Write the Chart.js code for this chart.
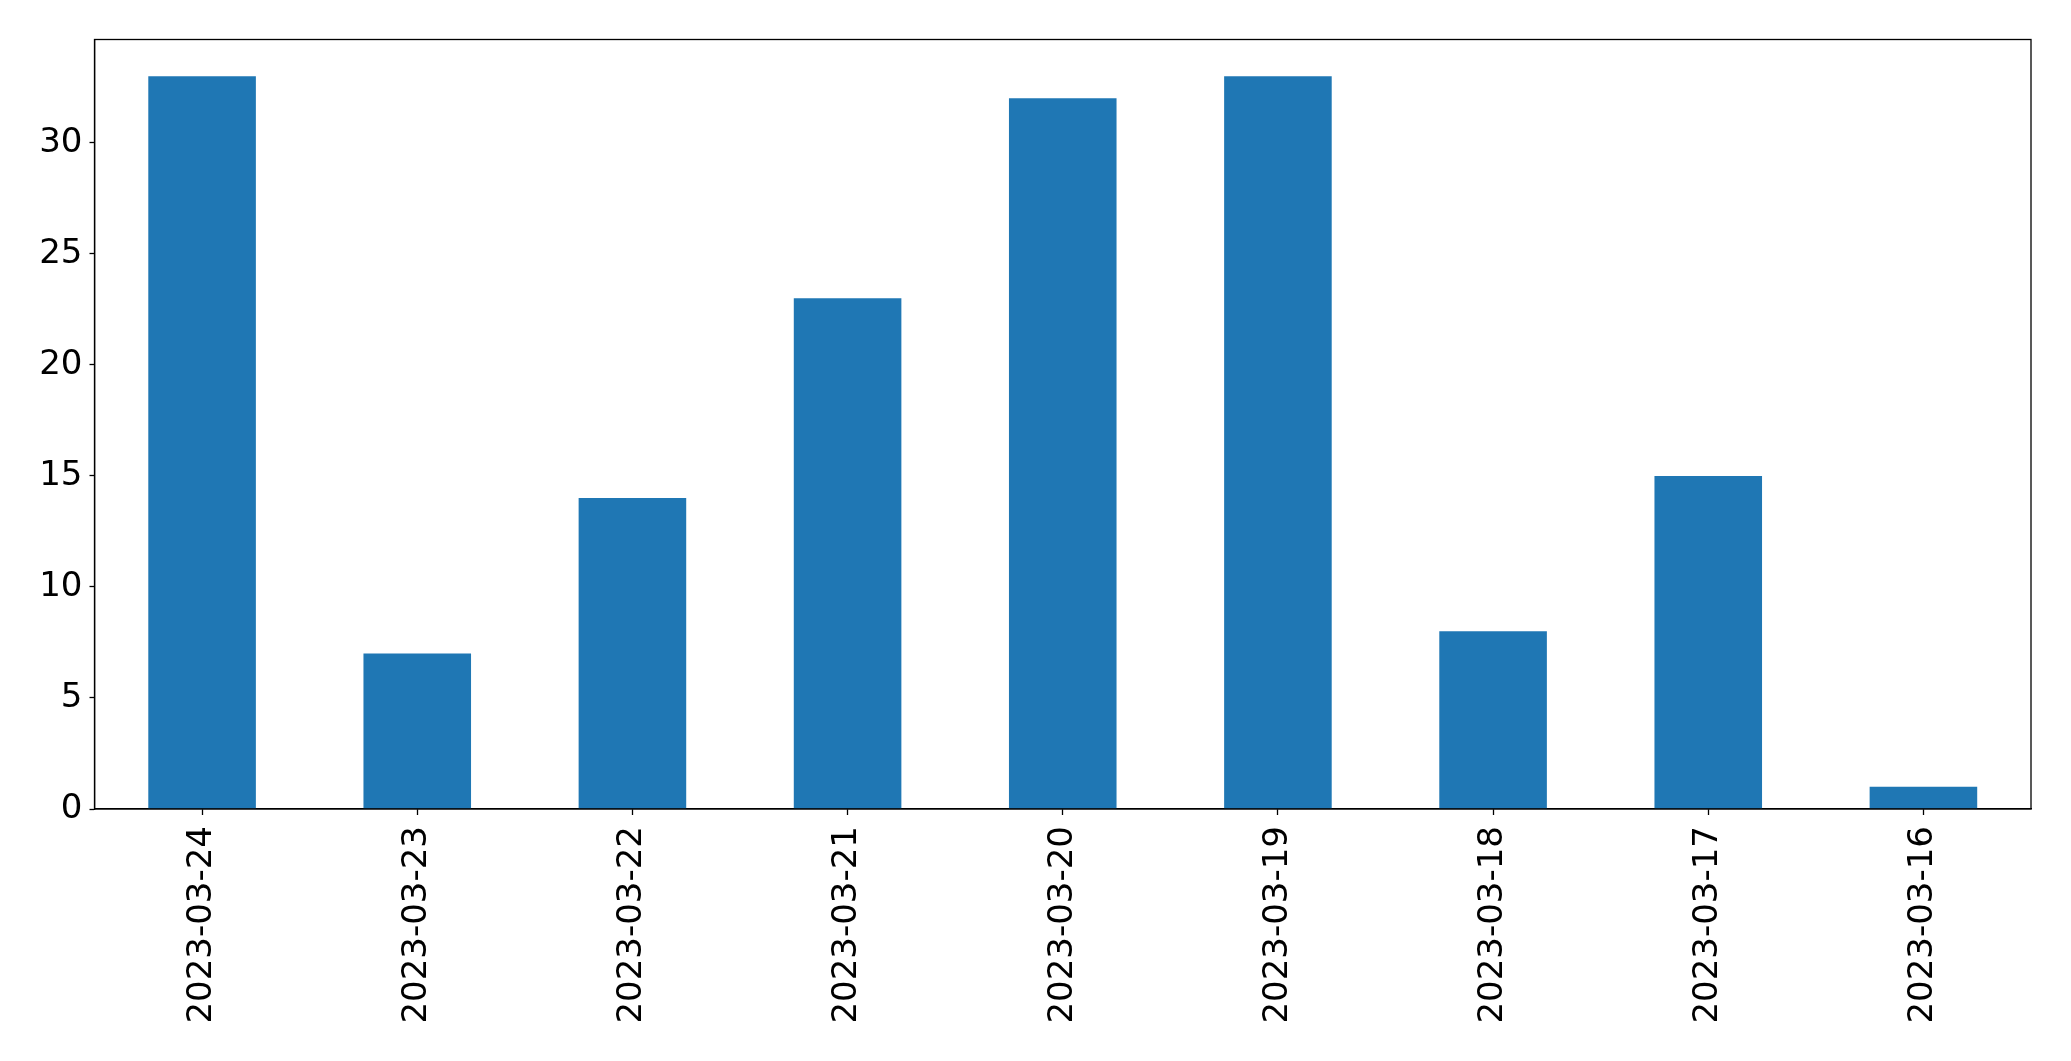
<!DOCTYPE html>
<html lang="en">
<head>
    <meta charset="UTF-8">
    <title>Counts by date</title>
    <script src="https://cdn.jsdelivr.net/npm/chart.js"></script>
    <style>
        html, body { margin: 0; padding: 0; background: #fff; }
        #wrap { width: 2071px; height: 1061px; }
    </style>
</head>
<body>
    <div id="wrap"><canvas id="barChart"></canvas></div>

    <script>
        // data
        const dates = ['2023-03-24', '2023-03-23', '2023-03-22', '2023-03-21', '2023-03-20',
                       '2023-03-19', '2023-03-18', '2023-03-17', '2023-03-16'];
        const counts = [33, 7, 14, 23, 32, 33, 8, 15, 1];
        const yTicks = [0, 5, 10, 15, 20, 25, 30];

        // black frame round the plot area (matplotlib style)
        const frame = {
            id: 'frame',
            afterDraw(chart) {
                const a = chart.chartArea, c = chart.ctx;
                c.save();
                c.strokeStyle = '#000';
                c.lineWidth = 1.3;
                c.strokeRect(a.left, a.top, a.right - a.left, a.bottom - a.top);
                c.restore();
            }
        };

        const ctx = document.getElementById('barChart').getContext('2d');
        new Chart(ctx, {
            type: 'bar',
            data: {
                labels: dates,
                datasets: [{
                    data: counts,
                    backgroundColor: '#1f77b4',
                    borderWidth: 0,
                    barPercentage: 0.5,
                    categoryPercentage: 1.0
                }]
            },
            options: {
                responsive: true,
                maintainAspectRatio: false,
                animation: false,
                layout: { padding: { left: 0, top: 39.5, right: 40, bottom: 0 } },
                plugins: { legend: { display: false }, tooltip: { enabled: false } },
                scales: {
                    x: {
                        offset: true,
                        grid: { offset: false, drawOnChartArea: false, tickLength: 6, tickColor: '#000', tickWidth: 1.3 },
                        border: { color: '#000', width: 1.3 },
                        ticks: {
                            minRotation: 90, maxRotation: 90, padding: 11,
                            color: '#000',
                            font: { family: 'DejaVu Sans', size: 34 }
                        },
                        afterFit(scale) { scale.height = 252; }
                    },
                    y: {
                        min: 0,
                        max: 34.65,
                        grid: { drawOnChartArea: false, tickLength: 5, tickColor: '#000', tickWidth: 1.3 },
                        border: { color: '#000', width: 1.3 },
                        afterBuildTicks(scale) { scale.ticks = yTicks.map(v => ({ value: v })); },
                        ticks: {
                            padding: 7,
                            color: '#000',
                            font: { family: 'DejaVu Sans', size: 34 }
                        },
                        afterFit(scale) { scale.width = 94.5; }
                    }
                }
            },
            plugins: [frame]
        });
    </script>
</body>
</html>
